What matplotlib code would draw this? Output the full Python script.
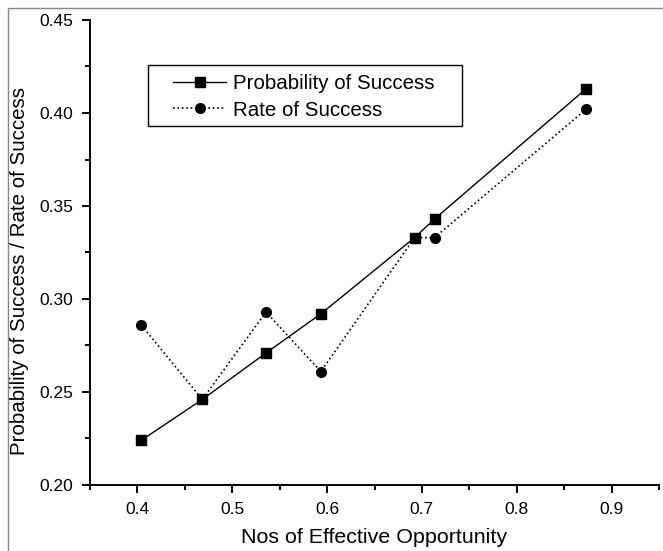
import matplotlib
matplotlib.use("Agg")
import matplotlib.pyplot as plt
from matplotlib.ticker import MultipleLocator
from matplotlib.patches import Rectangle

plt.rcParams['font.family'] = ['Liberation Sans', 'DejaVu Sans']

x_vals = [0.404, 0.4685, 0.5356, 0.5934, 0.6923, 0.7133, 0.8731]
prob_success = [0.224, 0.246, 0.271, 0.292, 0.333, 0.343, 0.413]
rate_success = [0.286, 0.246, 0.293, 0.261, 0.333, 0.333, 0.402]

fig = plt.figure(figsize=(6.63, 5.51), dpi=100)
ax = fig.add_axes([90/663, 1-485/551, (659-90)/663, (485-20)/551])

fig.patches.append(Rectangle((8/663, -0.1), 2, (1-8/551)+0.1, transform=fig.transFigure,
                             fill=False, edgecolor='#888888', linewidth=1.0))

ax.plot(x_vals, prob_success, '-', color='black', linewidth=1.0, marker='s',
        markersize=6.5, label='Probability of Success')
ax.plot(x_vals, rate_success, ':', color='black', linewidth=1.2, marker='o',
        markersize=7, label='Rate of Success')

ax.set_xlim(0.35, 0.95)
ax.set_ylim(0.20, 0.45)
ax.xaxis.set_major_locator(MultipleLocator(0.1))
ax.xaxis.set_minor_locator(MultipleLocator(0.05))
ax.yaxis.set_major_locator(MultipleLocator(0.05))
ax.yaxis.set_minor_locator(MultipleLocator(0.025))
ax.xaxis.set_major_formatter(plt.FormatStrFormatter('%.1f'))
ax.yaxis.set_major_formatter(plt.FormatStrFormatter('%.2f'))

for s in ['top', 'right']:
    ax.spines[s].set_visible(False)
for s in ['left', 'bottom']:
    ax.spines[s].set_linewidth(1.4)

ax.tick_params(which='major', direction='out', length=6, width=1.4, labelsize=12.5, pad=6)
ax.tick_params(which='minor', direction='out', length=3.5, width=1.4)

ax.set_xlabel('Nos of Effective Opportunity', fontsize=15.4, labelpad=8)
ax.set_ylabel('Probability of Success / Rate of Success', fontsize=14.8)
ax.yaxis.set_label_coords(-0.107, 0.46)

# legend frame
ax.add_patch(Rectangle((0.102, 0.773), 0.552, 0.130, transform=ax.transAxes,
                       fill=False, edgecolor='black', linewidth=1.0, zorder=5,
                       clip_on=False))
leg = ax.legend(loc='upper left', bbox_to_anchor=(0.146, 0.883), fontsize=14.8,
                frameon=False, handlelength=2.58, handletextpad=0.34, borderpad=0,
                labelspacing=0.35, borderaxespad=0)

fig.savefig('out.png', dpi=100)
